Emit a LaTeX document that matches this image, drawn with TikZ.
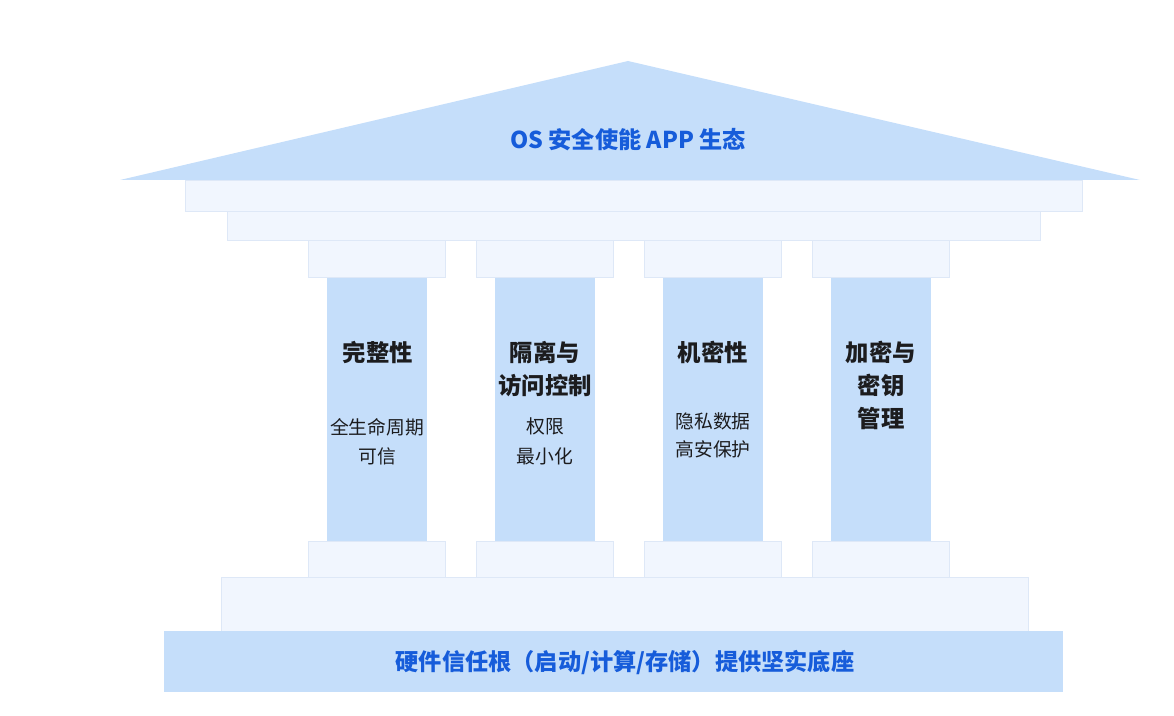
\documentclass[tikz,border=0pt]{standalone}
\usepackage{fontspec}
\setmainfont{Noto Sans CJK SC}
\usepackage{xcolor}
\usetikzlibrary{positioning}
\definecolor{pillarblue}{RGB}{197,222,250}
\definecolor{stonelight}{RGB}{241,246,254}
\definecolor{stoneedge} {RGB}{222,232,247}
\definecolor{inkblue}   {RGB}{22,92,218}
\definecolor{inkdark}   {RGB}{28,28,30}

\begin{document}
\begin{tikzpicture}[
  x=0.02cm, y=-0.02cm,
  every node/.style={align=center, inner sep=0pt, outer sep=0pt},
  stone/.style={rectangle, draw=stoneedge, fill=stonelight, line width=0.5pt},
  capbox/.style={stone, minimum width=2.74cm, minimum height=0.74cm},
  colbox/.style={rectangle, fill=pillarblue, minimum width=2cm, minimum height=5.28cm},
  titletext/.style={font=\fontsize{13.3}{18.8}\selectfont\bfseries, text=inkdark, anchor=north},
  subtext/.style={font=\fontsize{10.7}{17}\selectfont, text=inkdark, anchor=north},
  bluetext/.style={font=\fontsize{13.2}{15}\selectfont\bfseries, text=inkblue},
]
\useasboundingbox (0,0) rectangle (1174,716);

% Roof
\fill[pillarblue] (120,180) -- (628,61) -- (1140,180) -- cycle;
\node[bluetext] (roof) at (628,140) {OS 安全使能 APP 生态};

% Entablature
\node[stone, minimum width=17.96cm, minimum height=0.62cm] (beam1) at (634,195.5) {};
\node[stone, minimum width=16.28cm, minimum height=0.58cm] (beam2) at (634,225.5) {};

% Columns
\node[colbox] (col1) at (377,409) {};
\node[colbox] (col2) at (545,409) {};
\node[colbox] (col3) at (713,409) {};
\node[colbox] (col4) at (881,409) {};

% Capitals and bases
\node[capbox, above=0pt of col1] (cap1) {};
\node[capbox, above=0pt of col2] (cap2) {};
\node[capbox, above=0pt of col3] (cap3) {};
\node[capbox, above=0pt of col4] (cap4) {};
\node[capbox, below=0pt of col1] (base1) {};
\node[capbox, below=0pt of col2] (base2) {};
\node[capbox, below=0pt of col3] (base3) {};
\node[capbox, below=0pt of col4] (base4) {};

% Column texts
\node[titletext] (title1) at (378,341) {完整性};
\node[subtext]   (sub1)   at (377,418) {全生命周期\\可信};
\node[titletext] (title2) at (545,341) {隔离与\\访问控制};
\node[subtext]   (sub2)   at (545,418) {权限\\最小化};
\node[titletext] (title3) at (713,341) {机密性};
\node[subtext, font=\fontsize{10.7}{16}\selectfont] (sub3) at (713,413) {隐私数据\\高安保护};
\node[titletext] (title4) at (881,341) {加密与\\密钥\\管理};

% Plinth and foundation
\node[stone, minimum width=16.16cm, minimum height=1.08cm] (plinth) at (625,604) {};
\node[rectangle, fill=pillarblue, minimum width=17.98cm, minimum height=1.22cm] (slab) at (613.5,661.5) {};
\node[bluetext] (slabtext) at (625,663) {硬件信任根（启动/计算/存储）提供坚实底座};
\end{tikzpicture}
\end{document}
